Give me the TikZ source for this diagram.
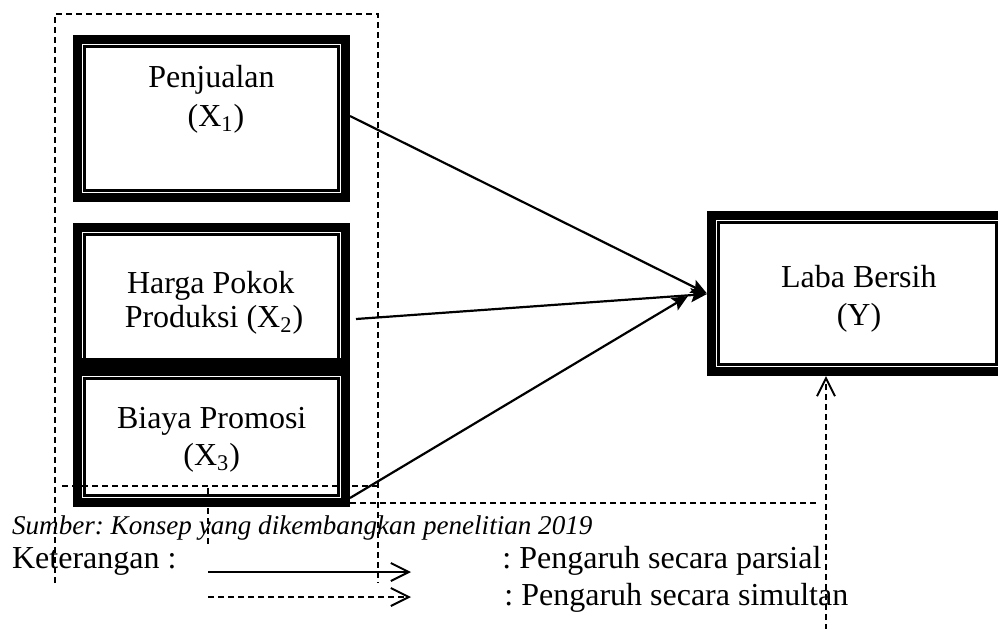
\documentclass[tikz,border=0pt]{standalone}
\usepackage{fontspec}
\setmainfont{Liberation Serif}
\frenchspacing
\usetikzlibrary{arrows.meta,calc}
\tikzset{
  thickbox/.style={draw, line width=4.4pt, inner sep=0pt, outer sep=2.2pt, fill=white},
  innerline/.style={draw, line width=1.2pt},
  lbl/.style={anchor=base, inner sep=0pt, font=\fontsize{16pt}{19pt}\selectfont},
  lbll/.style={anchor=base west, inner sep=0pt, font=\fontsize{16pt}{19pt}\selectfont},
  srcl/.style={anchor=base west, inner sep=0pt, font=\fontsize{13.55pt}{16pt}\selectfont\itshape},
  conn/.style={line width=1.1pt, -{Stealth[length=8pt, width=7pt, inset=1.5pt]}},
  dashedline/.style={line width=1pt, dash pattern=on 3pt off 2pt},
  openhead/.style={-{Straight Barb[length=9pt, width=9pt, line width=1pt]}},
}
\begin{document}
\begin{tikzpicture}[x=0.5pt, y=-0.5pt]
\useasboundingbox (0,0) rectangle (998,628);
\clip (0,0) rectangle (998,628);

% boxes
\node[thickbox, minimum width=134.1pt, minimum height=79.1pt] (b1) at (211.5,118.5) {};
\node[thickbox, minimum width=134.1pt, minimum height=71.6pt] (b2) at (211.5,299) {};
\node[thickbox, minimum width=134.1pt, minimum height=65.6pt] (b3) at (211.5,437) {};
\node[thickbox, minimum width=146.1pt, minimum height=78.1pt] (laba) at (857.5,293.5) {};
\foreach \b in {b1,b2,b3,laba}{
  \draw[innerline] ([shift={(11.6,11.6)}]\b.north west) rectangle ([shift={(-11.6,-11.6)}]\b.south east);
}
% shared thick border between X2 and X3
\draw[line width=4.4pt] ([shift={(0,-4.4)}]b3.north west) -- ([shift={(0,-4.4)}]b3.north east);

% texts
\node[lbl] (t1a) at (211.5,87) {Penjualan};
\node[lbl] (t1b) at (216,126) {(X\textsubscript{1})};
\node[lbl] (t2a) at (210.7,293) {Harga Pokok};
\node[lbl] (t2b) at (214,327) {Produksi (X\textsubscript{2})};
\node[lbl] (t3a) at (211.7,428) {Biaya Promosi};
\node[lbl] (t3b) at (211.7,465) {(X\textsubscript{3})};
\node[lbl] (tya) at (858.8,287) {Laba Bersih};
\node[lbl] (tyb) at (859,325) {(Y)};

\node[srcl] (src) at (11.7,534) {Sumber: Konsep yang dikembangkan penelitian 2019};
\node[lbll] (ket) at (11.7,568) {Keterangan :};
\node[lbll] (lg1) at (502,568) {: Pengaruh secara parsial};
\node[lbll] (lg2) at (504,605) {: Pengaruh secara simultan};

% dashed frame lines
\coordinate (d1) at (55,583);
\coordinate (d2) at (55,14);
\coordinate (d3) at (378,14);
\coordinate (d4) at (378,583);
\draw[dashedline] (d1) -- (d2) -- (d3) -- (d4);
\coordinate (h1a) at (62,486);
\coordinate (h1b) at (377,486);
\draw[dashedline] (h1a) -- (h1b);
\coordinate (h2b) at (817,503);
\draw[dashedline] ([shift={(0,-4)}]b3.south east) -- (h2b);
\coordinate (v1a) at (208,488);
\coordinate (v1b) at (208,547);
\draw[dashedline] (v1a) -- (v1b);
\coordinate (vb) at (826,640);
\draw[dashedline, openhead] (vb) -- ([shift={(-31.5,0)}]laba.south);

% connectors
\draw[conn] ([shift={(0,-2.5)}]b1.east) -- (laba.west);
\draw[conn] ([shift={(6,20)}]b2.east) -- ([shift={(0,0.5)}]laba.west);
\draw[conn] ([shift={(0,-9)}]b3.south east) -- ([shift={(-19,2.5)}]laba.west);

% legend arrows
\coordinate (la1) at (208,572);
\coordinate (la2) at (411,572);
\coordinate (lb1) at (208,597);
\coordinate (lb2) at (411,597);
\draw[line width=1pt, openhead] (la1) -- (la2);
\draw[dashedline, openhead] (lb1) -- (lb2);
\end{tikzpicture}
\end{document}
